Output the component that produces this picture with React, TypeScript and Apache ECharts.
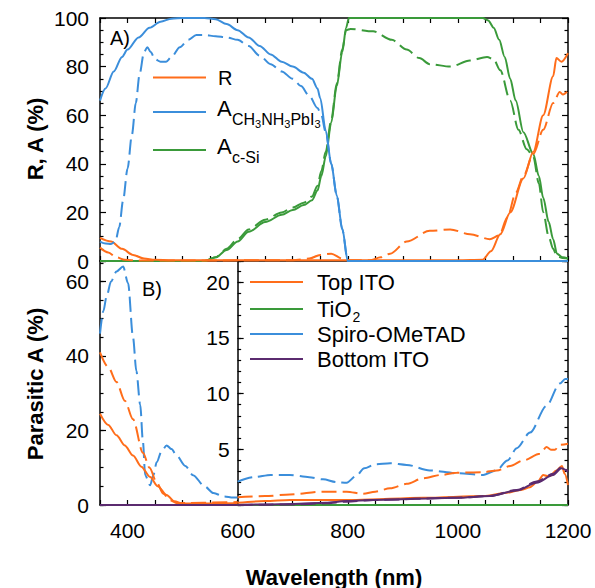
import React, { useEffect, useRef } from "react";
import * as echarts from "echarts";

// ---- Panel A data (wavelength nm, %)
const rSolidNm = [350, 370, 390, 410, 430, 450, 480, 600, 800, 1000, 1045, 1060, 1077, 1095, 1119, 1137, 1155, 1173, 1179, 1188, 1200];
const rSolidVal = [9.5, 8, 5, 2.5, 1, 0.5, 0.3, 0.3, 0.3, 0.3, 0.5, 4, 11, 20, 34, 45, 60, 76, 83.5, 82, 85.5];
const rDashNm = [350, 365, 380, 395, 420, 700, 730, 750, 770, 790, 800, 840, 860, 877, 907, 949, 986, 1022, 1058, 1075, 1090, 1105, 1119, 1137, 1155, 1173, 1185, 1191, 1200];
const rDashVal = [5.5, 3.5, 1.5, 0.5, 0.2, 0.3, 1, 2.5, 3, 1, 0.3, 0.3, 1.5, 3, 8, 12.4, 13, 11, 9, 10.5, 18, 28, 35, 44, 54, 65, 69.5, 68.5, 70];
const aPvkSolidNm = [350, 360, 375, 390, 400, 420, 440, 460, 480, 500, 540, 560, 580, 600, 620, 640, 660, 680, 700, 720, 735, 745, 750, 760, 770, 780, 790, 800, 1200];
const aPvkSolidVal = [66, 71, 78, 84, 87, 92, 96, 98.5, 99.7, 100, 100, 99.5, 97.5, 95, 92, 88.5, 85, 82, 80, 77.5, 75, 71, 67, 53.6, 40, 27, 13.4, 0, 0];
const aPvkDashNm = [350, 360, 370, 378, 385, 392, 400, 408, 415, 422, 430, 436, 442, 450, 460, 470, 480, 495, 510, 525, 540, 560, 580, 600, 620, 640, 660, 680, 700, 715, 730, 745, 752, 760, 770, 780, 790, 800, 1200];
const aPvkDashVal = [8, 7.2, 7, 8, 14, 25, 38, 52, 65, 77, 86, 88, 86, 83, 82, 82, 84, 88, 91, 93, 93, 92.5, 92, 91, 88.5, 84.5, 81, 78, 75, 72, 68, 63, 60, 53, 40, 27, 13, 0, 0];
const aSiSolidNm = [350, 540, 560, 580, 600, 620, 650, 680, 700, 720, 735, 745, 752, 760, 770, 780, 790, 797, 802, 1045, 1055, 1065, 1075, 1085, 1095, 1105, 1119, 1137, 1147, 1155, 1165, 1173, 1180, 1190, 1200];
const aSiSolidVal = [0, 0, 1.5, 4.5, 8, 12, 16, 19, 21, 23, 25, 29, 35, 43, 57, 72, 86, 96, 100, 100, 99, 96, 91, 84, 75, 66, 53, 44, 35, 26, 16, 9, 3, 1.5, 1];
const aSiDashNm = [350, 540, 560, 580, 600, 620, 650, 680, 700, 720, 735, 745, 752, 760, 770, 780, 790, 797, 805, 846, 880, 907, 930, 949, 986, 1022, 1053, 1065, 1077, 1095, 1110, 1125, 1137, 1147, 1155, 1165, 1173, 1180, 1190, 1200];
const aSiDashVal = [0, 0, 1.5, 5, 9, 13, 17, 20, 22, 24, 26.5, 31, 37, 45, 58, 73, 87, 95, 95.5, 94.5, 91, 87, 83.5, 81, 80, 82.5, 84, 83, 78.5, 66, 54, 46, 43, 32, 20, 10, 5, 2, 1.2, 1];

// ---- Panel B, 350-600 nm (left scale 0-65 %)
const itoSolidLeftNm = [350, 365, 380, 395, 410, 425, 441, 455, 471, 485, 500, 600];
const itoSolidLeftVal = [24.5, 21.5, 18.7, 16, 13.3, 10.3, 7.5, 5, 2.7, 1, 0.4, 0.5];
const itoDashLeftNm = [350, 365, 380, 395, 410, 428, 440, 453, 465, 477, 490, 600];
const itoDashLeftVal = [41, 37, 33, 28, 23, 14, 10, 6, 3, 1.3, 0.5, 0.8];
const spiroLeftNm = [350, 356, 362, 370, 380, 392, 401, 410, 416, 423, 428, 432, 441, 447, 453, 462, 471, 480, 489, 505, 519, 540, 556, 575, 592, 600];
const spiroLeftVal = [46, 52, 56, 60, 62.7, 64, 59.5, 45, 36, 27, 17, 8, 5.3, 8, 11.5, 14.5, 16, 15, 13.3, 10.5, 8, 5, 3.2, 2.3, 2, 2];
const flatLeftNm = [350, 600];
const tio2LeftVal = [0, 0];
const botItoLeftVal = [0, 0];

// ---- Panel B inset, 600-1200 nm (scale 0-22 %)
const spiroInNm = [600, 630, 660, 695, 730, 755, 780, 798, 815, 830, 850, 877, 907, 949, 998, 1046, 1070, 1090, 1107, 1131, 1161, 1185, 1195, 1200];
const spiroInVal = [2.1, 2.5, 2.7, 2.7, 2.5, 2.3, 2.05, 2.0, 2.6, 3.3, 3.65, 3.75, 3.6, 3.1, 2.85, 2.7, 3.1, 4.0, 5.1, 6.5, 8.9, 10.9, 11.3, 11.3];
const itoDashInNm = [600, 650, 695, 755, 798, 828, 850, 877, 907, 937, 970, 998, 1046, 1071, 1095, 1119, 1149, 1161, 1170, 1176, 1185, 1200];
const itoDashInVal = [0.7, 0.8, 0.95, 1.2, 1.2, 1.0, 1.2, 1.5, 1.9, 2.4, 2.7, 2.9, 2.95, 3.1, 3.5, 4.0, 4.6, 5.2, 4.95, 4.95, 5.4, 5.5];
const itoSolidInNm = [600, 650, 695, 816, 937, 1046, 1089, 1115, 1131, 1145, 1155, 1162, 1167, 1179, 1189, 1194, 1200];
const itoSolidInVal = [0.2, 0.35, 0.45, 0.45, 0.65, 0.8, 1.1, 1.35, 1.6, 2.1, 2.7, 2.6, 2.6, 3.1, 3.5, 2.8, 1.8];
const botItoInNm = [600, 650, 700, 760, 798, 846, 998, 1058, 1107, 1143, 1173, 1188, 1200];
const botItoInVal = [0, 0.05, 0.1, 0.2, 0.35, 0.45, 0.65, 0.8, 1.3, 2.0, 2.7, 3.3, 3.0];
const botItoDashInVal = [0, 0.03, 0.05, 0.15, 0.3, 0.45, 0.65, 0.8, 1.35, 2.1, 2.8, 3.4, 3.0];
const tio2InNm = [600, 1200];
const tio2InVal = [0, 0];

// tick labels
const xTickLabels = [400, 600, 800, 1000, 1200];

const ORANGE = "#ff6d1a";
const BLUE = "#3b8edb";
const GREEN = "#3a9a3a";
const PURPLE = "#5b2b6f";
const FONT = "Liberation Sans";

function ln(nm: number[], val: number[], color: string, dashed: boolean, xi: number, yi: number, z = 2) {
  return {
    type: "line",
    xAxisIndex: xi,
    yAxisIndex: yi,
    data: nm.map((x, i) => [x, val[i]]),
    showSymbol: false,
    symbol: "none",
    smooth: 0.3,
    smoothMonotone: "x",
    clip: true,
    silent: true,
    z,
    lineStyle: { color, width: 2, type: dashed ? [15, 6] : "solid" },
  };
}

export default function App() {
  const ref = useRef<HTMLDivElement>(null);
  useEffect(() => {
    if (!ref.current) return;
    const chart = echarts.init(ref.current, null, { renderer: "svg" });
    const axisLine = { show: true, onZero: false, lineStyle: { color: "#000", width: 1.5 } };
    const tick = (len: number) => ({ show: true, inside: true, length: len, lineStyle: { color: "#000", width: 1.2 } });
    const noLabel = { show: false };
    const lbl = { fontSize: 21, fontFamily: FONT, color: "#000" };

    const gA = { left: 100, top: 18, width: 468, height: 243 };
    const gB = { left: 100, top: 261, width: 468, height: 244 };
    const insetLeft = 100 + (250 * 468) / 850;
    const gI = { left: insetLeft, top: 261, width: 568 - insetLeft, height: 244 };

    const xAxis: any[] = [
      { gridIndex: 0, type: "value", position: "bottom", min: 350, max: 1200, interval: 50, axisLine, axisTick: tick(5), axisLabel: noLabel, splitLine: { show: false } },
      { gridIndex: 0, type: "value", position: "top", min: 350, max: 1200, interval: 50, axisLine, axisTick: tick(5), axisLabel: noLabel, splitLine: { show: false } },
      {
        gridIndex: 1, type: "value", position: "bottom", min: 350, max: 1200, interval: 50, axisLine, axisTick: tick(5),
        axisLabel: { ...lbl, margin: 15, interval: 0, formatter: (v: number) => (xTickLabels.includes(v) ? String(v) : "") },
        splitLine: { show: false },
      },
      { gridIndex: 2, type: "value", min: 600, max: 1200, show: false },
    ];
    const yAxis: any[] = [
      { gridIndex: 0, type: "value", position: "left", min: 0, max: 100, interval: 20, axisLine, axisTick: tick(6),
        minorTick: { show: true, splitNumber: 4, length: 3.5, lineStyle: { color: "#000", width: 1.2 } },
        axisLabel: { ...lbl, margin: 11 }, splitLine: { show: false } },
      { gridIndex: 0, type: "value", position: "right", min: 0, max: 100, interval: 20, axisLine, axisTick: tick(6),
        minorTick: { show: true, splitNumber: 4, length: 3.5, lineStyle: { color: "#000", width: 1.2 } },
        axisLabel: noLabel, splitLine: { show: false } },
      { gridIndex: 1, type: "value", position: "left", min: 0, max: 65.5, interval: 20, axisLine, axisTick: tick(6),
        axisLabel: { ...lbl, margin: 11, formatter: (v: number) => (v % 20 === 0 ? String(v) : "") }, splitLine: { show: false } },
      { gridIndex: 1, type: "value", position: "left", min: 0, max: 65.5, interval: 5, axisLine: { show: false }, axisTick: tick(3.5),
        axisLabel: noLabel, splitLine: { show: false } },
      { gridIndex: 2, type: "value", position: "left", min: 0, max: 21.9, interval: 5, axisLine, axisTick: tick(6),
        axisLabel: { ...lbl, margin: 8, formatter: (v: number) => (v > 0 && v % 5 === 0 ? String(v) : "") }, splitLine: { show: false } },
      { gridIndex: 2, type: "value", position: "left", min: 0, max: 21.9, interval: 1, axisLine: { show: false }, axisTick: tick(3.5),
        axisLabel: noLabel, splitLine: { show: false } },
      { gridIndex: 2, type: "value", position: "right", min: 0, max: 21.9, interval: 5, axisLine, axisTick: tick(6),
        axisLabel: noLabel, splitLine: { show: false } },
      { gridIndex: 2, type: "value", position: "right", min: 0, max: 21.9, interval: 1, axisLine: { show: false }, axisTick: tick(3.5),
        axisLabel: noLabel, splitLine: { show: false } },
    ];

    const series: any[] = [
      ln(aSiDashNm, aSiDashVal, GREEN, true, 0, 0),
      ln(aSiSolidNm, aSiSolidVal, GREEN, false, 0, 0),
      ln(rDashNm, rDashVal, ORANGE, true, 0, 0),
      ln(rSolidNm, rSolidVal, ORANGE, false, 0, 0),
      ln(aPvkDashNm, aPvkDashVal, BLUE, true, 0, 0),
      ln(aPvkSolidNm, aPvkSolidVal, BLUE, false, 0, 0),
      ln(flatLeftNm, tio2LeftVal, GREEN, false, 2, 2),
      ln(spiroLeftNm, spiroLeftVal, BLUE, true, 2, 2),
      ln(itoDashLeftNm, itoDashLeftVal, ORANGE, true, 2, 2),
      ln(itoSolidLeftNm, itoSolidLeftVal, ORANGE, false, 2, 2),
      ln(flatLeftNm, botItoLeftVal, PURPLE, false, 2, 2),
      ln(tio2InNm, tio2InVal, GREEN, false, 3, 4),
      ln(spiroInNm, spiroInVal, BLUE, true, 3, 4),
      ln(itoDashInNm, itoDashInVal, ORANGE, true, 3, 4),
      ln(itoSolidInNm, itoSolidInVal, ORANGE, false, 3, 4),
      ln(botItoInNm, botItoInVal, PURPLE, false, 3, 4),
      ln(botItoInNm, botItoDashInVal, PURPLE, true, 3, 4),
    ];

    const txt = (x: number, y: number, text: string, size: number, extra: any = {}) => ({
      type: "text", x, y, z: 100,
      style: { text, fontSize: size, fontFamily: FONT, fill: "#000", align: "left", verticalAlign: "middle", ...extra },
    });
    const lg = (x1: number, x2: number, y: number, color: string) => ({
      type: "line", z: 100, shape: { x1, y1: y, x2, y2: y }, style: { stroke: color, lineWidth: 2 },
    });

    // subscript layout for A_{CH3NH3PbI3}
    const s1 = 16, s2 = 11;
    const xCH = 232;
    const x3a = xCH + 1.444 * s1;
    const xNH = x3a + 0.556 * s2;
    const x3b = xNH + 1.444 * s1;
    const xPbI = x3b + 0.556 * s2;
    const x3c = xPbI + 1.501 * s1;

    const graphic: any[] = [
      txt(110, 38, "A)", 20),
      txt(142, 289, "B)", 20),
      lg(153, 206, 77.5, ORANGE),
      txt(218, 78, "R", 20),
      lg(153, 206, 112, BLUE),
      txt(217, 108, "A", 22),
      txt(xCH, 119, "CH", s1),
      txt(x3a, 123.5, "3", s2),
      txt(xNH, 119, "NH", s1),
      txt(x3b, 123.5, "3", s2),
      txt(xPbI, 119, "PbI", s1),
      txt(x3c, 123.5, "3", s2),
      lg(153, 206, 150, GREEN),
      txt(217, 146, "A", 22),
      txt(232, 157, "c-Si", s1),
      lg(250, 303, 282, ORANGE),
      txt(317, 282, "Top ITO", 22),
      lg(250, 303, 309, GREEN),
      txt(317, 309, "TiO", 22),
      txt(317 + 1.611 * 22, 317, "2", 14),
      lg(250, 303, 334, BLUE),
      txt(317, 334, "Spiro-OMeTAD", 22),
      lg(250, 303, 359, PURPLE),
      txt(317, 359, "Bottom ITO", 22),
      { type: "text", x: 35, y: 139, rotation: Math.PI / 2, z: 100,
        style: { text: "R, A (%)", fontSize: 22, fontWeight: "bold", fontFamily: FONT, fill: "#000", align: "center", verticalAlign: "middle" } },
      { type: "text", x: 35, y: 384, rotation: Math.PI / 2, z: 100,
        style: { text: "Parasitic A (%)", fontSize: 22, fontWeight: "bold", fontFamily: FONT, fill: "#000", align: "center", verticalAlign: "middle" } },
      { type: "text", x: 334, y: 577, z: 100,
        style: { text: "Wavelength (nm)", fontSize: 22, fontWeight: "bold", fontFamily: FONT, fill: "#000", align: "center", verticalAlign: "middle" } },
    ];

    chart.setOption({
      animation: false,
      backgroundColor: "#ffffff",
      textStyle: { fontFamily: FONT },
      grid: [gA, gB, gI].map((g) => ({ ...g, containLabel: false, show: false })),
      xAxis,
      yAxis,
      series,
      graphic,
    });
    return () => chart.dispose();
  }, []);
  return <div ref={ref} style={{ position: "fixed", left: 0, top: 0, width: 595, height: 588, background: "#fff" }} />;
}
